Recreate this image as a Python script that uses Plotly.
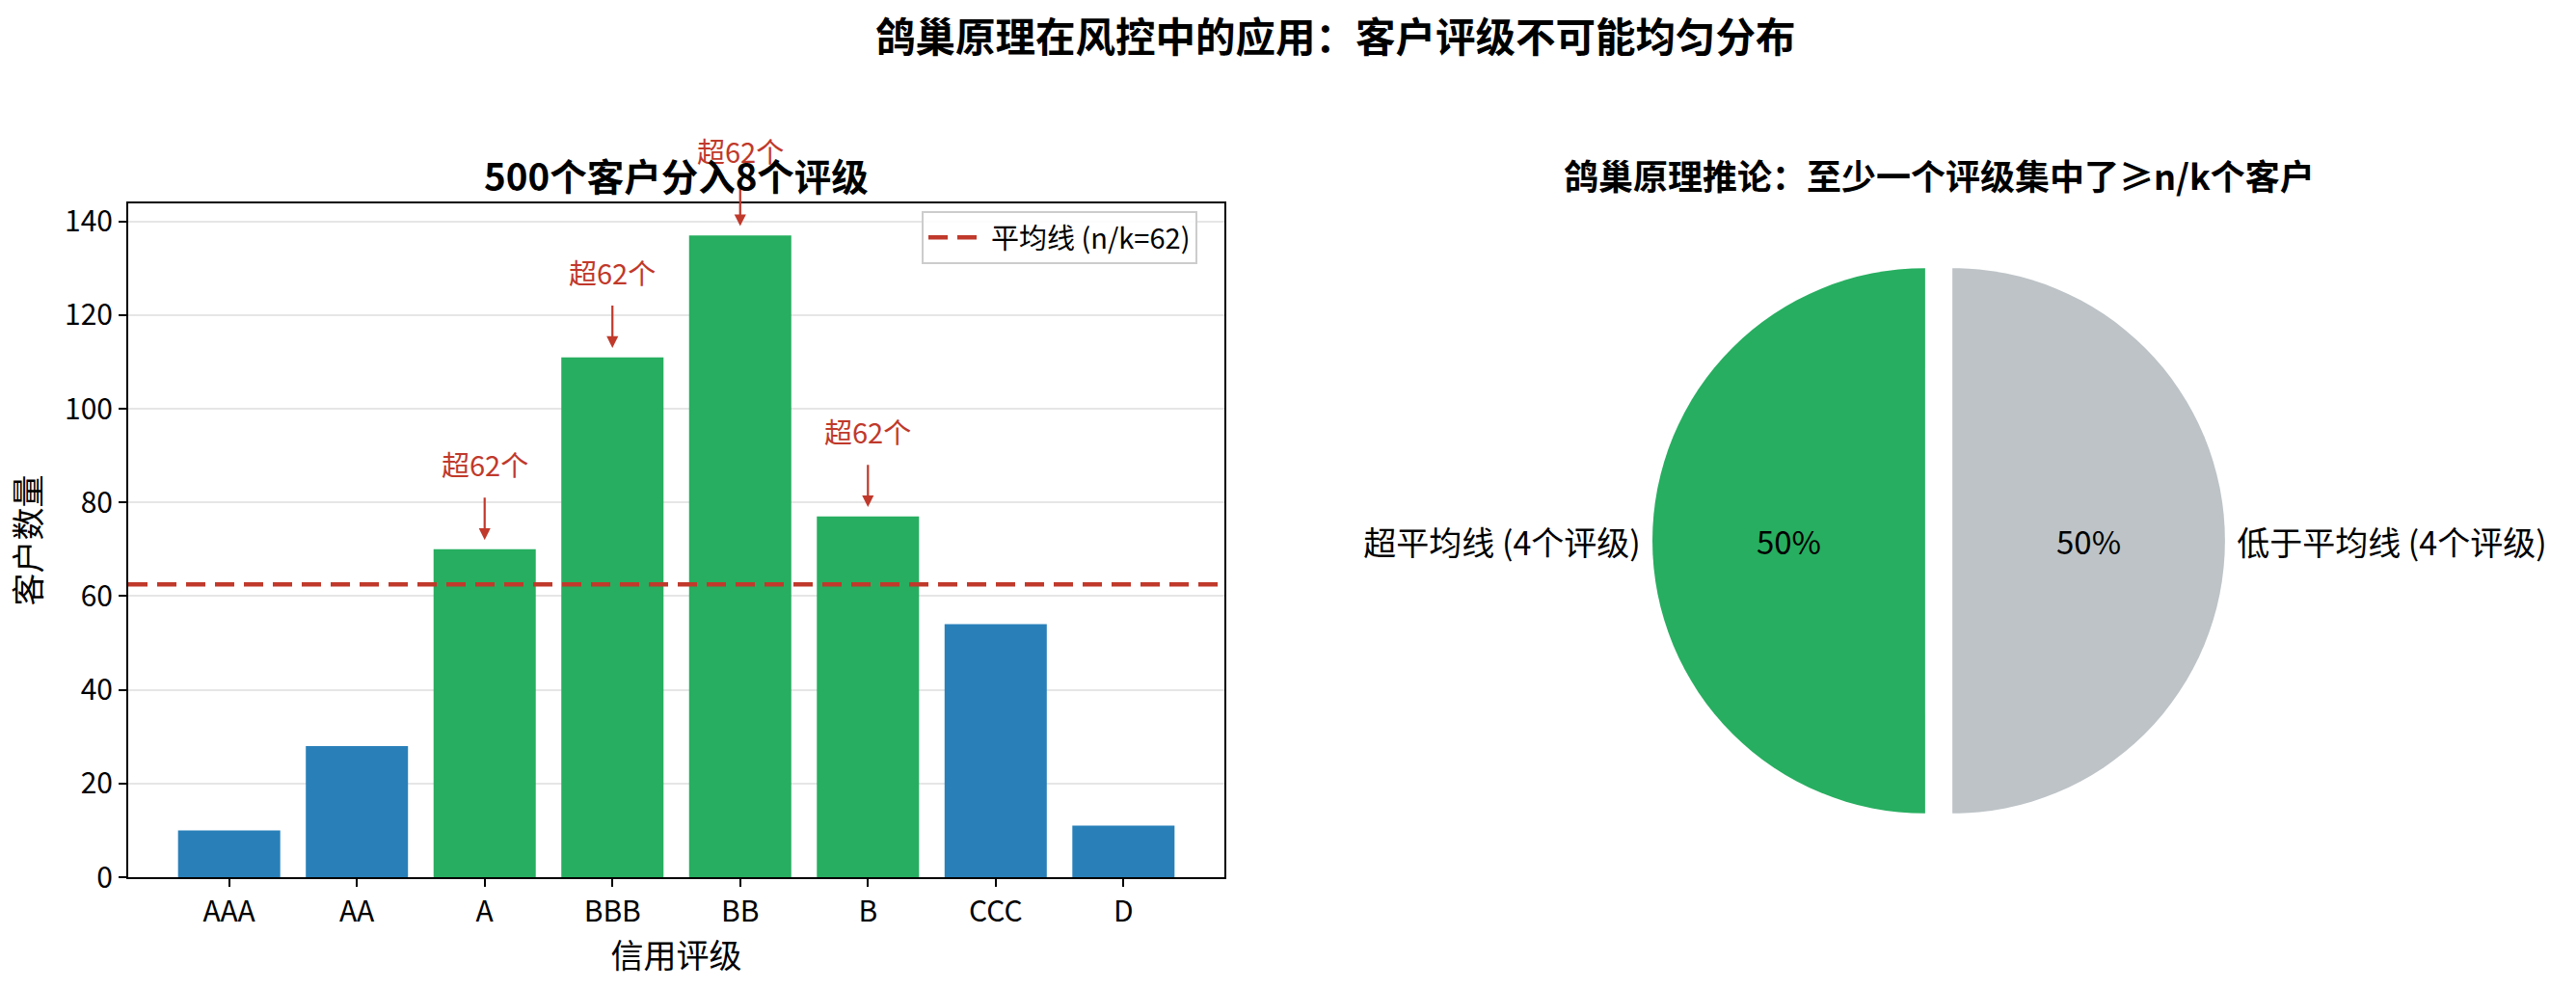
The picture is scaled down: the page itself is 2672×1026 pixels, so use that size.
import plotly.graph_objects as go

# ---- data ----
ratings = ["AAA", "AA", "A", "BBB", "BB", "B", "CCC", "D"]
counts = [10, 28, 70, 111, 137, 77, 54, 11]
n_customers = 500
k_ratings = 8
mean_line = n_customers / k_ratings  # 62.5

suptitle = "鸽巢原理在风控中的应用：客户评级不可能均匀分布"
left_title = "500个客户分入8个评级"
right_title = "鸽巢原理推论：至少一个评级集中了≥n/k个客户"
x_label = "信用评级"
y_label = "客户数量"
legend_name = f"平均线 (n/k={int(mean_line)})"

GREEN = "#27ae60"
BLUE = "#2980b9"
RED = "#c0392b"
GREY = "#bdc3c7"
FONT = "Noto Sans CJK SC"

above = [v > mean_line for v in counts]
bar_colors = [GREEN if a else BLUE for a in above]
n_above = sum(above)
n_below = len(counts) - n_above
pie_labels = [f"超平均线 ({n_above}个评级)", f"低于平均线 ({n_below}个评级)"]
pie_values = [n_above, n_below]

W, H = 2672, 1026

fig = go.Figure()

fig.add_trace(go.Bar(
    x=ratings, y=counts, marker=dict(color=bar_colors, line=dict(width=0)),
    width=0.8, showlegend=False, xaxis="x", yaxis="y",
))

# pie: coloured slices with percent inside
pie_dom = dict(x=[1714 / W, 2308 / W], y=[1 - 858 / H, 1 - 264 / H])
fig.add_trace(go.Pie(
    labels=pie_labels, values=pie_values, sort=False, direction="clockwise",
    rotation=180, pull=[0.05, 0.05], marker=dict(colors=[GREEN, GREY], line=dict(width=0)),
    textinfo="percent", textposition="inside", insidetextorientation="horizontal",
    texttemplate="%{percent:.0%}",
    textfont=dict(family=FONT, size=33, color="black"), showlegend=False, domain=pie_dom,
))
# transparent overlay pie carrying outside labels
fig.add_trace(go.Pie(
    labels=pie_labels, values=pie_values, sort=False, direction="clockwise",
    rotation=180, pull=[0.05, 0.05],
    marker=dict(colors=["rgba(0,0,0,0)", "rgba(0,0,0,0)"], line=dict(width=0)),
    textinfo="label", textposition="outside",
    outsidetextfont=dict(family=FONT, size=34, color="black"),
    showlegend=False, domain=pie_dom, hoverinfo="skip",
))

annotations = []
for r, v, a in zip(ratings, counts, above):
    if a:
        annotations.append(dict(
            x=r, y=v + 2, xref="x", yref="y", ax=r, ay=v + 13.5, axref="x", ayref="y",
            text=f"超{int(mean_line)}个", showarrow=True, arrowhead=2, arrowsize=1.1,
            arrowwidth=2.2, arrowcolor=RED, startstandoff=12, yanchor="bottom",
            font=dict(family=FONT, size=29, color=RED),
        ))

annotations += [
    dict(text=f"<b>{suptitle}</b>", x=1385 / W, y=1 - 36 / H, xref="paper", yref="paper",
         showarrow=False, font=dict(family=FONT, size=41.5, color="black"),
         xanchor="center", yanchor="middle"),
    dict(text=f"<b>{left_title}</b>", x=(133 + 1270) / 2 / W, y=1 - 181 / H,
         xref="paper", yref="paper", showarrow=False,
         font=dict(family=FONT, size=38.5, color="black"), xanchor="center", yanchor="middle"),
    dict(text=f"<b>{right_title}</b>", x=2011 / W, y=1 - 181 / H,
         xref="paper", yref="paper", showarrow=False,
         font=dict(family=FONT, size=36, color="black"), xanchor="center", yanchor="middle"),
]

fig.update_layout(
    width=W, height=H, margin=dict(l=0, r=0, t=0, b=0, autoexpand=False),
    paper_bgcolor="white", plot_bgcolor="white",
    font=dict(family=FONT, color="black"),
    xaxis=dict(
        domain=[133 / W, 1270 / W], range=[-0.79, 7.79], type="category",
        showline=True, linecolor="black", linewidth=2, mirror=True,
        ticks="outside", ticklen=8, tickwidth=2, tickcolor="black",
        tickfont=dict(family=FONT, size=30), showgrid=False, automargin=False,
        title=dict(text=x_label, font=dict(family=FONT, size=34), standoff=10),
        anchor="y",
    ),
    yaxis=dict(
        domain=[1 - 910 / H, 1 - 211 / H], range=[0, 143.85], dtick=20,
        showline=True, linecolor="black", linewidth=2, mirror=True,
        ticks="outside", ticklen=8, tickwidth=2, tickcolor="black",
        tickfont=dict(family=FONT, size=30), showgrid=True, gridcolor="#e6e6e6",
        gridwidth=2, zeroline=False, automargin=False,
        title=dict(text=y_label, font=dict(family=FONT, size=34), standoff=14),
        anchor="x",
    ),
    shapes=[dict(
        type="line", xref="x domain", yref="y", x0=0, x1=1, y0=mean_line, y1=mean_line,
        line=dict(color=RED, width=4.5, dash="20px,10px"), showlegend=True,
        name=legend_name, layer="above",
    )],
    legend=dict(
        x=1242 / W, y=1 - 219 / H, xanchor="right", yanchor="top",
        bgcolor="rgba(255,255,255,0.85)", bordercolor="#cccccc", borderwidth=2,
        font=dict(family=FONT, size=29), itemwidth=60,
    ),
    annotations=annotations,
)

fig.write_html("out.html")
